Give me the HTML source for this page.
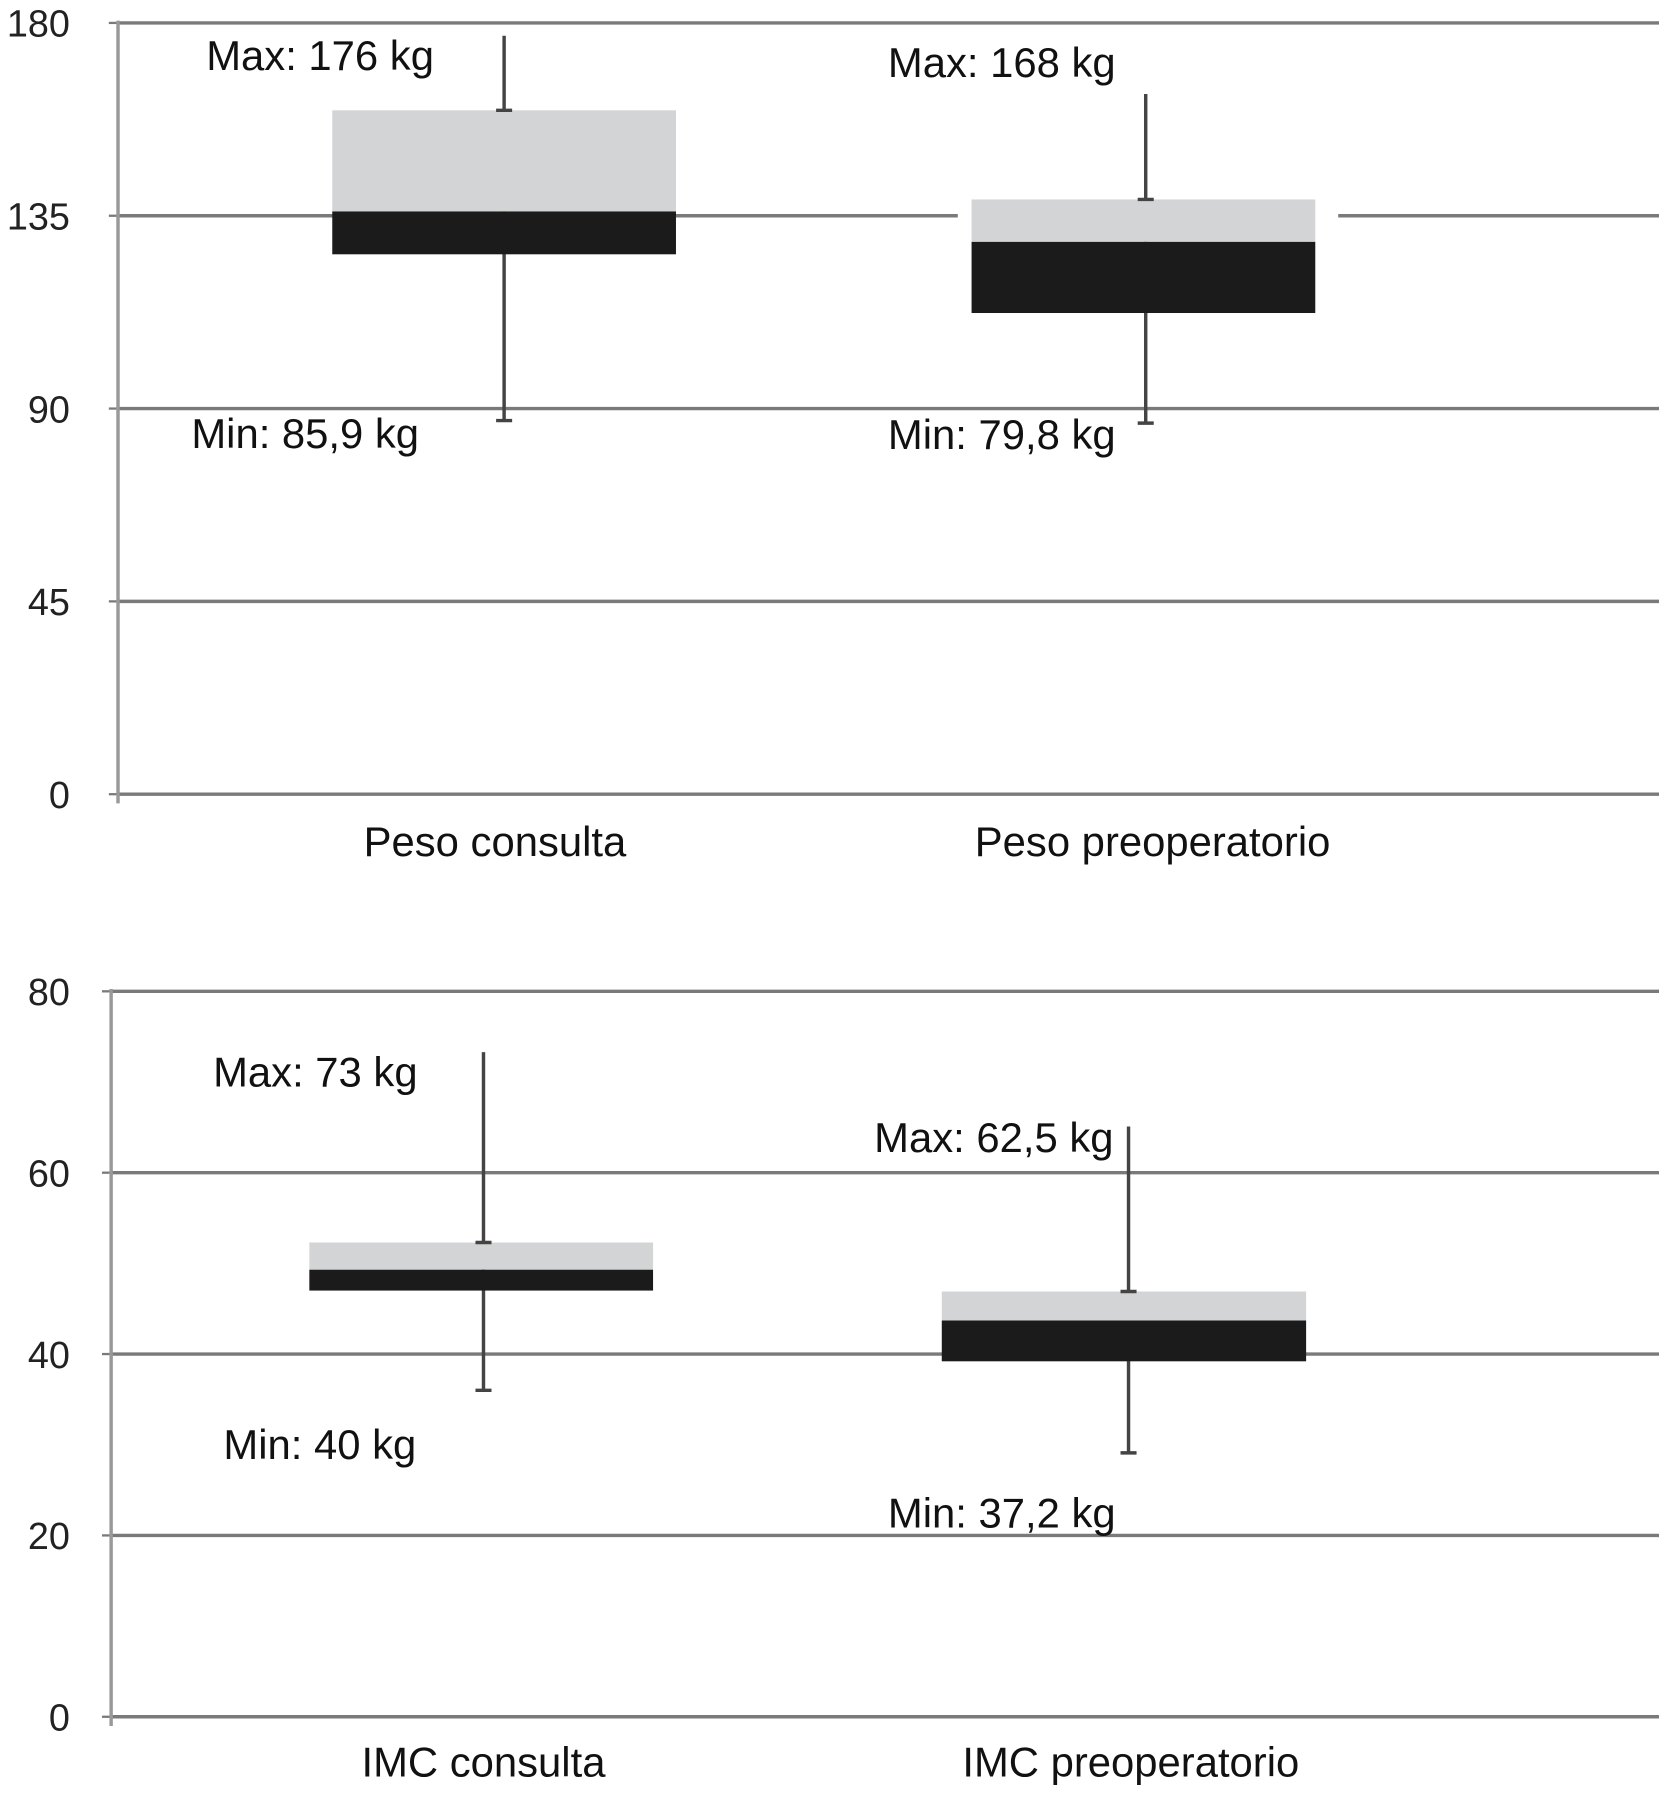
<!DOCTYPE html>
<html><head><meta charset="utf-8"><style>
html,body{margin:0;padding:0;background:#fff;}
svg{display:block;font-family:"Liberation Sans",Arial,sans-serif;}
</style></head>
<body>
<svg id="chart" width="1659" height="1797" viewBox="0 0 1448 1568" preserveAspectRatio="none" xmlns="http://www.w3.org/2000/svg"></svg>
<script>
// Top panel data (Peso)
const topCategories = ["Peso consulta", "Peso preoperatorio"];
const topMax = [177, 163.4];
const topQ3 = [159.6, 138.8];
const topMedian = [136, 128.9];
const topQ1 = [126, 112.3];
const topMin = [87.2, 86.6];
const topTicks = [0, 45, 90, 135, 180];
const topMaxLabels = ["Max: 176 kg", "Max: 168 kg"];
const topMinLabels = ["Min: 85,9 kg", "Min: 79,8 kg"];

// Bottom panel data (IMC)
const botCategories = ["IMC consulta", "IMC preoperatorio"];
const botMax = [73.3, 65.1];
const botQ3 = [52.3, 46.9];
const botMedian = [49.3, 43.7];
const botQ1 = [47.0, 39.2];
const botMin = [36.0, 29.1];
const botTicks = [0, 20, 40, 60, 80];
const botMaxLabels = ["Max: 73 kg", "Max: 62,5 kg"];
const botMinLabels = ["Min: 40 kg", "Min: 37,2 kg"];

const NS = "http://www.w3.org/2000/svg";
const svg = document.getElementById("chart");
function mk(tag, attrs, parent) {
  const e = document.createElementNS(NS, tag);
  for (const k in attrs) e.setAttribute(k, attrs[k]);
  (parent || svg).appendChild(e);
  return e;
}

function panel(cfg) {
  const g = mk("g", {});
  
  
  const y = v => cfg.y0 + (cfg.y1 - cfg.y0) * (v - cfg.vmin) / (cfg.vmax - cfg.vmin);
  cfg.ticks.forEach(t => {
    const l = mk("line", {x1: cfg.axisX, x2: 1448, y1: y(t), y2: y(t), stroke: "#7a7a7a", "stroke-width": 3}, g);
    
    
    mk("line", {x1: cfg.axisX - 8, x2: cfg.axisX, y1: y(t), y2: y(t), stroke: "#7a7a7a", "stroke-width": 2}, g);
    const tx = mk("text", {x: 61, y: y(t) + 12, "text-anchor": "end", "font-size": 33, fill: "#222"}, g);
    tx.textContent = t;
    
    
  });
  const ax = mk("line", {x1: cfg.axisX, x2: cfg.axisX, y1: y(cfg.vmax) - 2, y2: y(0) + 8, stroke: "#999", "stroke-width": 3}, g);
  
  
  cfg.cats.forEach((c, i) => {
    const bx = cfg.boxX[i], bw = cfg.boxW[i], wx = cfg.whiskerX[i];
    if (cfg.gap[i]) {
      mk("rect", {x: cfg.gap[i][0], y: y(cfg.q3[i]) - 3, width: cfg.gap[i][1] - cfg.gap[i][0], height: y(cfg.q1[i]) - y(cfg.q3[i]) + 6, fill: "#fff"}, g);
    }
    const w = mk("line", {x1: wx, x2: wx, y1: y(cfg.max[i]), y2: y(cfg.min[i]), stroke: "#444", "stroke-width": 3}, g);
    
    
    mk("line", {x1: wx - 7, x2: wx + 7, y1: y(cfg.min[i]), y2: y(cfg.min[i]), stroke: "#444", "stroke-width": 3}, g);
    const up = mk("rect", {x: bx, y: y(cfg.q3[i]), width: bw, height: y(cfg.med[i]) - y(cfg.q3[i]), fill: "#d3d4d5"}, g);
    
    
    const lo = mk("rect", {x: bx, y: y(cfg.med[i]), width: bw, height: y(cfg.q1[i]) - y(cfg.med[i]), fill: "#1b1b1b"}, g);
    
    
    mk("line", {x1: wx - 7, x2: wx + 7, y1: y(cfg.q3[i]), y2: y(cfg.q3[i]), stroke: "#444", "stroke-width": 3}, g);
    const mx = mk("text", {x: cfg.maxPos[i][0], y: cfg.maxPos[i][1], "font-size": 36.5, fill: "#111"}, g);
    mx.textContent = cfg.maxL[i];
    
    
    const mn = mk("text", {x: cfg.minPos[i][0], y: cfg.minPos[i][1], "font-size": 36.5, fill: "#111"}, g);
    mn.textContent = cfg.minL[i];
    
    
    const cl = mk("text", {x: cfg.catX[i], y: cfg.catY, "text-anchor": "middle", "font-size": 36.5, fill: "#111"}, g);
    cl.textContent = c;
    
    
  });
}

panel({name: "peso-panel", y0: 693, y1: 20, vmin: 0, vmax: 180, axisX: 103, ticks: topTicks,
  cats: topCategories, max: topMax, q3: topQ3, med: topMedian, q1: topQ1, min: topMin,
  boxX: [290, 848], boxW: [300, 300], whiskerX: [440, 1000], gap: [null, [836, 1168]],
  maxL: topMaxLabels, minL: topMinLabels,
  maxPos: [[180, 61], [775, 67]], minPos: [[167, 391], [775, 392]],
  catX: [432, 1006], catY: 747});

panel({name: "imc-panel", y0: 1498, y1: 865, vmin: 0, vmax: 80, axisX: 97, ticks: botTicks,
  cats: botCategories, max: botMax, q3: botQ3, med: botMedian, q1: botQ1, min: botMin,
  boxX: [270, 822], boxW: [300, 318], whiskerX: [422, 985], gap: [null, null],
  maxL: botMaxLabels, minL: botMinLabels,
  maxPos: [[186, 948], [763, 1005]], minPos: [[195, 1273], [775, 1333]],
  catX: [422, 987], catY: 1550});
</script>
</body></html>
